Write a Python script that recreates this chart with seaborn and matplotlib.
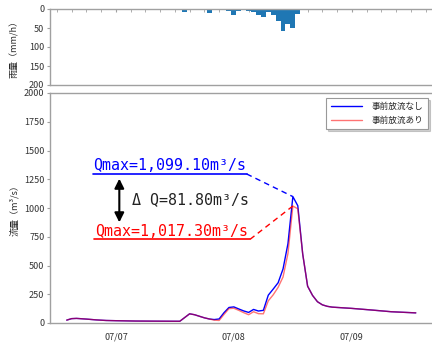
import numpy as np
import pandas as pd
import matplotlib
matplotlib.use("Agg")
import matplotlib.pyplot as plt
import matplotlib.dates as mdates
import seaborn as sns

# ============================================================
# Données (heures depuis 07/07 00:00)
# ============================================================
base = pd.Timestamp("2020-07-07 00:00")

rain_hours = [14, 15, 18, 19, 21, 23, 24, 25, 27, 28, 29, 30, 31, 32, 33, 34, 35, 36, 37]
rain_mm = [7, 2, 2, 11, 3, 5, 17, 5, 5, 9, 16, 20, 9, 16, 31, 57, 40, 51, 13]

q_hours = [-10, -9, -8, -6, -4, -2, 0, 4, 8, 13, 15, 16, 18, 19, 20, 21, 22, 23, 24, 25,
           26, 27, 28, 29, 30, 31, 32, 33, 34, 35, 36, 37, 38, 39, 40, 41, 42, 43, 44,
           48, 52, 56, 61]
q_sans = [25, 38, 40, 34, 27, 22, 20, 17, 16, 15, 80, 72, 45, 35, 30, 35, 90, 135, 140, 122,
          105, 92, 118, 104, 110, 242, 295, 350, 470, 690, 1099.1, 1020, 600, 320, 240, 185, 158, 145, 138,
          127, 113, 98, 88]
q_avec = [25, 38, 40, 34, 27, 22, 20, 17, 16, 15, 80, 72, 45, 35, 25, 22, 75, 125, 128, 110,
          90, 72, 98, 81, 80, 193, 245, 310, 400, 604, 1017.3, 993, 600, 320, 240, 185, 158, 145, 138,
          127, 113, 98, 88]

label_sans = "事前放流なし"
label_avec = "事前放流あり"

# ============================================================
# Style
# ============================================================
sns.set_style("white")
plt.rcParams['font.family'] = ['Noto Sans CJK JP', 'DejaVu Sans']
plt.rcParams['font.size'] = 6.5

grey = "#a0a0a0"
t_rain = [base + pd.Timedelta(hours=h) for h in rain_hours]
t_q = [base + pd.Timedelta(hours=h) for h in q_hours]

fig = plt.figure(figsize=(4.32, 3.51), dpi=100)
ax1 = fig.add_axes([50 / 432, 1 - 85 / 351, 382 / 432, 76 / 351])
ax2 = fig.add_axes([50 / 432, 1 - 323 / 351, 382 / 432, 230 / 351])

x0 = mdates.date2num(base - pd.Timedelta(hours=13.4))
x1 = mdates.date2num(base + pd.Timedelta(hours=64.3))

# ---- Pluie (axe inversé) ----
ax1.bar(mdates.date2num(t_rain), rain_mm, width=1 / 24, color="#1f77b4", linewidth=0)
ax1.set_ylim(200, 0)
ax1.set_yticks([0, 50, 100, 150, 200])
ax1.set_xlim(x0, x1)
ax1.xaxis.set_major_locator(mdates.DayLocator())
ax1.xaxis.set_minor_locator(mdates.HourLocator(byhour=range(0, 24, 3)))
ax1.tick_params(axis="x", which="both", top=True, bottom=False, labelbottom=False,
                direction="in", length=2, color=grey)
ax1.set_ylabel("雨量（mm/h）", fontsize=6.5)
ax1.yaxis.set_label_coords(-0.08, 0.5)

# ---- Débit ----
sns.lineplot(x=t_q, y=q_sans, color="#0000ff", lw=1.0, label=label_sans, ax=ax2)
sns.lineplot(x=t_q, y=q_avec, color="#ff0000", alpha=0.55, lw=1.0, label=label_avec, ax=ax2)
ax2.set_ylim(0, 2000)
ax2.set_yticks(np.arange(0, 2001, 250))
ax2.set_xlim(x0, x1)
ax2.xaxis.set_major_locator(mdates.DayLocator())
ax2.xaxis.set_major_formatter(mdates.DateFormatter("%m/%d"))
ax2.xaxis.set_minor_locator(mdates.HourLocator(byhour=range(0, 24, 3)))
ax2.tick_params(axis="x", which="major", length=3, color=grey)
ax2.tick_params(axis="x", which="minor", length=2, color=grey)
ax2.set_ylabel("流量（m³/s）", fontsize=6.5)
ax2.yaxis.set_label_coords(-0.08, 0.5)
ax2.set_xlabel("")

for ax in (ax1, ax2):
    for s in ax.spines.values():
        s.set_color(grey)
        s.set_linewidth(1.0)
    ax.spines["right"].set_visible(False)
    ax.tick_params(axis="y", left=True, length=2.5, color=grey, labelsize=6.5, pad=1.5)
    ax.tick_params(axis="x", labelsize=6.5, labelcolor="#333333")
    ax.tick_params(axis="y", labelcolor="#333333")

leg = ax2.legend(loc="upper right", bbox_to_anchor=(428 / 432, 1 - 98 / 351),
                 bbox_transform=fig.transFigure, borderaxespad=0, fontsize=6.2,
                 fancybox=False, shadow={"ox": 1.5, "oy": -1.5, "alpha": 0.25},
                 framealpha=1, edgecolor="#999999",
                 handlelength=3.6, handletextpad=1.2, borderpad=0.5, labelspacing=0.5)
leg.get_frame().set_linewidth(0.8)

# ---- Annotations ----
qmax_sans = max(q_sans)
qmax_avec = max(q_avec)
t_pk_sans = t_q[q_sans.index(qmax_sans)]
t_pk_avec = t_q[q_avec.index(qmax_avec)]


def hrs(h):
    return base + pd.Timedelta(hours=h)


mono = ['DejaVu Sans Mono']
ax2.text(hrs(-4.7), 1330, f"Qmax={qmax_sans:,.2f}m³/s", color="#0000ff",
         family=mono, fontsize=10.8, va="baseline")
ax2.plot([hrs(-4.75), hrs(26.6)], [1296, 1296], color="#0000ff", lw=1.2)
ax2.plot([hrs(26.6), t_pk_sans], [1296, qmax_sans], color="#0000ff", lw=1.0, ls=(0, (4, 3)))

ax2.text(hrs(-4.3), 760, f"Qmax={qmax_avec:,.2f}m³/s", color="#ff0000",
         family=mono, fontsize=10.8, va="baseline")
ax2.plot([hrs(-4.5), hrs(27.3)], [728, 728], color="#ff0000", lw=1.2)
ax2.plot([hrs(27.3), t_pk_avec], [728, qmax_avec], color="#ff0000", lw=1.0, ls=(0, (4, 3)))

ax2.text(hrs(3.2), 1030, f"Δ Q={qmax_sans - qmax_avec:.2f}m³/s", color="#222222",
         family=mono, fontsize=10.8, va="baseline")
ax2.annotate("", xy=(hrs(0.7), 1255), xytext=(hrs(0.7), 875),
             arrowprops=dict(arrowstyle="<|-|>", color="black", lw=1.5, mutation_scale=14,
                             shrinkA=0, shrinkB=0))

fig.savefig("out.png", dpi=100)
